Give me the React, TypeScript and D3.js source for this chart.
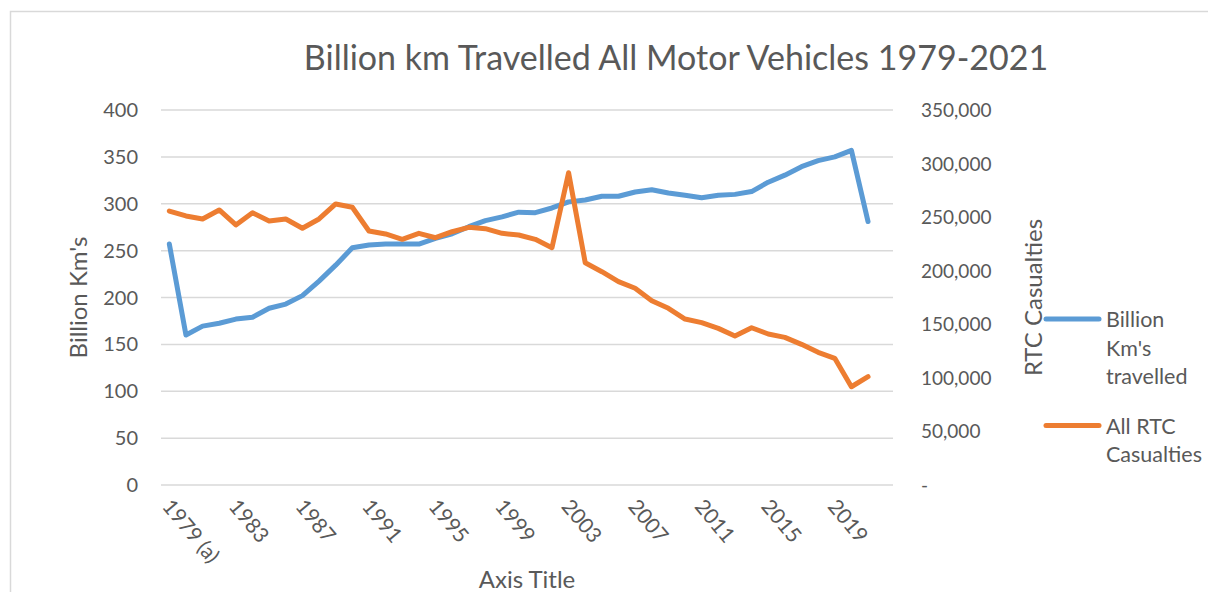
import React from "react";
import * as d3 from "d3";

const categories = [
  "1979 (a)", "1980", "1981", "1982", "1983", "1984", "1985", "1986", "1987", "1988",
  "1989", "1990", "1991", "1992", "1993", "1994", "1995", "1996", "1997", "1998",
  "1999", "2000", "2001", "2002", "2003", "2004", "2005", "2006", "2007", "2008",
  "2009", "2010", "2011", "2012", "2013", "2014", "2015", "2016", "2017", "2018",
  "2019", "2020", "2021", "",
];

const billionKm = [
  257, 160, 169.5, 172.5, 177, 179, 188.5, 193, 202, 217.5,
  234.5, 253, 256, 257, 257, 257, 263, 268, 275.5, 282,
  286, 291, 290.5, 295.5, 302, 304, 308, 308, 312.5, 315,
  311.5, 309, 306.5, 309, 310, 313, 323, 330.5, 339.5, 346,
  350, 357, 281,
];

const rtcCasualties = [
  255700, 251100, 248300, 256700, 242700, 254100, 246400, 248300, 239600, 248300,
  262300, 259200, 237100, 234300, 229300, 234900, 230800, 236400, 240500, 239200,
  234900, 233300, 229300, 221500, 291500, 207500, 199100, 189800, 183600, 172000,
  164900, 154900, 151500, 146200, 139100, 146800, 140900, 137800, 131300, 123800,
  118200, 91700, 101100,
];

const leftTicks = [0, 50, 100, 150, 200, 250, 300, 350, 400];
const rightTicks = [0, 50000, 100000, 150000, 200000, 250000, 300000, 350000];

const seriesNames = ["Billion Km's travelled", "All RTC Casualties"];
const legendLines = [["Billion", "Km's", "travelled"], ["All RTC", "Casualties"]];
const colors = ["#5B9BD5", "#ED7D31"];

const W = 1208;
const H = 592;
const plot = { left: 161, right: 893, top: 110, bottom: 485 };
const FONT = "Lato, 'Open Sans', sans-serif";
const TEXT = "#595959";

export default function App() {
  const x = d3
    .scaleBand<number>()
    .domain(categories.map((_, i) => i))
    .range([plot.left, plot.right]);
  const cx = (i: number) => (x(i) as number) + x.bandwidth() / 2;
  const yL = d3.scaleLinear().domain([0, 400]).range([plot.bottom, plot.top]);
  const yR = d3.scaleLinear().domain([0, 350000]).range([plot.bottom, plot.top]);

  const lineL = d3
    .line<number>()
    .x((_, i) => cx(i))
    .y((d) => yL(d));
  const lineR = d3
    .line<number>()
    .x((_, i) => cx(i))
    .y((d) => yR(d));

  const fmtR = (v: number) => (v === 0 ? "-" : d3.format(",")(v));

  return (
    <svg
      width={W}
      height={H}
      style={{ position: "absolute", left: 0, top: 0, background: "#fff" }}
      fontFamily={FONT}
    >
      <rect x={0} y={0} width={W} height={H} fill="#fff" />
      <rect x={10.5} y={11.5} width={1210} height={600} fill="none" stroke="#D9D9D9" strokeWidth={1.5} />

      <text x={676} y={70} textAnchor="middle" fontSize={34} fill={TEXT}>
        Billion km Travelled All Motor Vehicles 1979-2021
      </text>

      {leftTicks.map((t) => (
        <line
          key={"g" + t}
          x1={plot.left}
          x2={plot.right}
          y1={yL(t)}
          y2={yL(t)}
          stroke="#D9D9D9"
          strokeWidth={1.5}
        />
      ))}

      {leftTicks.map((t) => (
        <text key={"l" + t} x={138} y={yL(t) + 7} textAnchor="end" fontSize={20} fill={TEXT}>
          {t}
        </text>
      ))}

      {rightTicks.map((t) => (
        <text key={"r" + t} x={921} y={yR(t) + 7} textAnchor="start" fontSize={19} fill={TEXT}>
          {fmtR(t)}
        </text>
      ))}

      {categories.map((c, i) =>
        i % 4 === 0 && c !== "" ? (
          <text
            key={"x" + i}
            transform={`translate(${cx(i) - 8},${507}) rotate(50)`}
            textAnchor="start"
            fontSize={21}
            fill={TEXT}
          >
            {c}
          </text>
        ) : null
      )}

      <text x={(plot.left + plot.right) / 2} y={588} textAnchor="middle" fontSize={24} fill={TEXT}>
        Axis Title
      </text>
      <text
        transform={`translate(87,${(plot.top + plot.bottom) / 2}) rotate(-90)`}
        textAnchor="middle"
        fontSize={24}
        fill={TEXT}
      >
        Billion Km's
      </text>
      <text
        transform={`translate(1042,${(plot.top + plot.bottom) / 2}) rotate(-90)`}
        textAnchor="middle"
        fontSize={24}
        fill={TEXT}
      >
        RTC Casualties
      </text>

      <path
        d={lineL(billionKm) || ""}
        fill="none"
        stroke={colors[0]}
        strokeWidth={5}
        strokeLinejoin="round"
        strokeLinecap="round"
      />
      <path
        d={lineR(rtcCasualties) || ""}
        fill="none"
        stroke={colors[1]}
        strokeWidth={5}
        strokeLinejoin="round"
        strokeLinecap="round"
      />

      {seriesNames.map((name, s) => {
        const y0 = s === 0 ? 319 : 425.5;
        return (
          <g key={name}>
            <line x1={1046} x2={1099} y1={y0} y2={y0} stroke={colors[s]} strokeWidth={5} strokeLinecap="round" />
            {legendLines[s].map((ln, k) => (
              <text key={k} x={1106} y={y0 + 8 + k * 28.5} fontSize={21.5} fill={TEXT}>
                {ln}
              </text>
            ))}
          </g>
        );
      })}
    </svg>
  );
}
